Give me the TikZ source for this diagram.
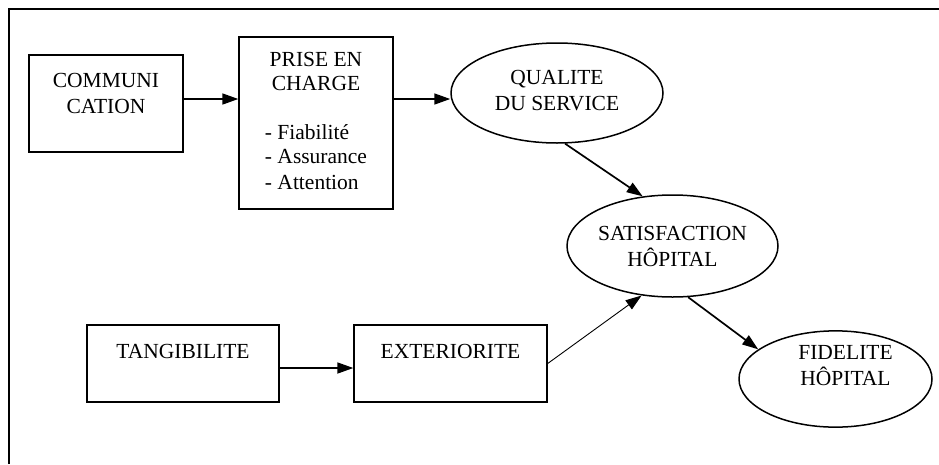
\documentclass[tikz,border=0pt]{standalone}
\usepackage{fontspec}
\setmainfont{Liberation Serif}
\usetikzlibrary{arrows.meta,shapes}

\begin{document}
\begin{tikzpicture}[x=1pt,y=-1pt,
  every node/.style={font=\fontsize{21.5}{26}\selectfont},
  box node/.style={rectangle,draw,line width=1.4pt,inner sep=0pt,align=center},
  oval node/.style={ellipse,draw,line width=1.5pt,inner sep=0pt,align=center},
  link/.style={line width=1.7pt,-{Triangle[length=16pt,width=11pt]}}]

  \useasboundingbox (0,0) rectangle (939,464);
  \draw[line width=2pt] (9,464) -- (9,9) -- (939,9);

  \node[box node,minimum width=154pt,minimum height=97pt] (comm) at (106,103.5)
    {COMMUNI\\CATION\rule[-20pt]{0pt}{0pt}};

  \node[box node,minimum width=154pt,minimum height=172pt] (prise) at (316,123)
    {\begin{tabular}{@{}l@{}}
      \multicolumn{1}{@{}c@{}}{PRISE EN}\\[-2pt]
      \multicolumn{1}{@{}c@{}}{CHARGE}\\[23pt]
      - Fiabilité\\[-2pt]
      - Assurance\\
      - Attention
    \end{tabular}};

  \node[oval node,minimum width=212pt,minimum height=100pt] (qual) at (557,93)
    {QUALITE\\DU SERVICE\rule[-5pt]{0pt}{0pt}};

  \node[oval node,inner xsep=-2pt,minimum width=211pt,minimum height=102pt] (sat) at (672.5,246)
    {SATISFACTION\\HÔPITAL};

  \node[oval node,minimum width=193pt,minimum height=96pt] (fid) at (835.5,379)
    {\hspace*{20pt}FIDELITE\\\hspace*{20pt}HÔPITAL\rule[-28pt]{0pt}{0pt}};

  \node[box node,minimum width=192pt,minimum height=77pt] (tang) at (183,363.5)
    {TANGIBILITE\rule[-25pt]{0pt}{0pt}};

  \node[box node,minimum width=193pt,minimum height=77pt] (ext) at (450.5,363.5)
    {EXTERIORITE\rule[-25pt]{0pt}{0pt}};

  \draw[link] ([yshift=4.5pt]comm.east) coordinate (c1) -- (c1 -| prise.west);
  \draw[link] (c1 -| prise.east) -- (c1 -| qual.west);
  \draw[link] (qual.-81) -- (sat.121);
  \draw[link] (sat.-73) -- (fid.159);
  \draw[link] ([yshift=-4.5pt]tang.east) coordinate (c2) -- (c2 -| ext.west);
  \draw[link,line width=0.9pt] (ext.east) -- (sat.-122);

\end{tikzpicture}
\end{document}
